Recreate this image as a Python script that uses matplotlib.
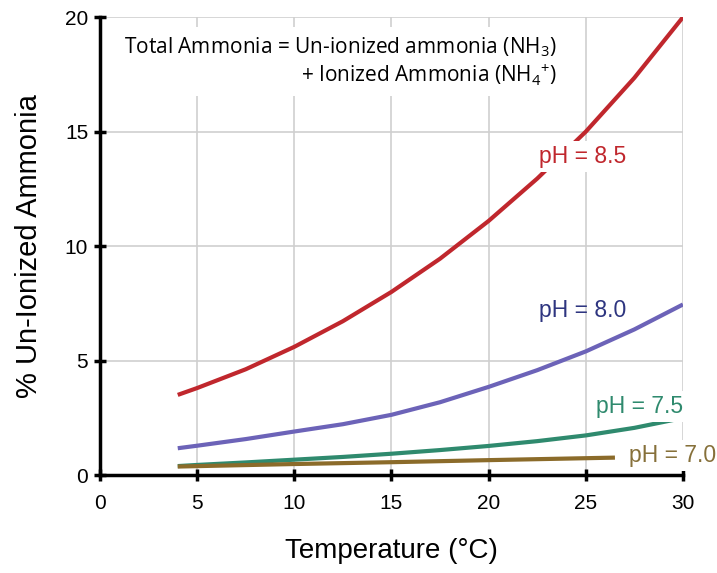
import matplotlib.pyplot as plt

plt.rcParams['font.family'] = ['Liberation Sans', 'DejaVu Sans']
plt.rcParams['mathtext.default'] = 'regular'

# temperature (°C) and % un-ionized ammonia
temp = [4, 5, 7.5, 10, 12.5, 15, 17.5, 20, 22.5, 25, 27.5, 30]
ph85 = [3.5, 3.8, 4.62, 5.6, 6.72, 8.0, 9.45, 11.1, 12.95, 15.0, 17.35, 20.0]
ph80 = [1.17, 1.28, 1.57, 1.9, 2.22, 2.63, 3.18, 3.85, 4.58, 5.4, 6.36, 7.45]
ph75 = [0.39, 0.44, 0.55, 0.67, 0.79, 0.93, 1.09, 1.27, 1.48, 1.73, 2.06, 2.49]
temp70 = [4, 10, 15, 20, 26.5]
ph70 = [0.37, 0.48, 0.56, 0.65, 0.76]

fig = plt.figure(figsize=(7.17, 5.73), dpi=100)
ax = fig.add_axes([0.1395, 0.171, 0.813, 0.799])

style = dict(lw=3, solid_capstyle='butt', solid_joinstyle='round')
ax.plot(temp, ph85, color='#c0272d', zorder=3, **style)
ax.plot(temp, ph80, color='#6c63b8', zorder=3, **style)
ax.plot(temp, ph75, color='#2f8a6e', zorder=3, **style)
ax.plot(temp70, ph70, color='#8b6b2a', zorder=4, **style)

ax.set_xlim(0, 30)
ax.set_ylim(0, 20)
ax.set_xticks(range(0, 31, 5))
ax.set_yticks(range(0, 21, 5))
ax.grid(True, color='#cfcfcf', lw=1.2, zorder=0)
ax.set_axisbelow(True)
for s in ['top', 'right']:
    ax.spines[s].set_visible(False)
for s in ['left', 'bottom']:
    ax.spines[s].set_linewidth(2.5)
ax.tick_params(axis='both', direction='inout', length=9, width=2.5, labelsize=15)
ax.tick_params(axis='x', pad=9)
ax.tick_params(axis='y', pad=4)

ax.set_xlabel('Temperature (°C)', fontsize=20, labelpad=18)
ax.set_ylabel('% Un-Ionized Ammonia', fontsize=21, labelpad=16)

box = dict(facecolor='white', edgecolor='none', pad=3)
ax.text(23.5, 18.07, 'Total Ammonia = Un-ionized ammonia (NH$_3$)\n'
        '+ Ionized Ammonia (NH$_4$$^{+}$)', fontsize=15,
        family=['Open Sans', 'DejaVu Sans'], va='center', ha='right',
        multialignment='right', linespacing=1.2, zorder=5,
        bbox=dict(facecolor='white', edgecolor='none', pad=6))

ax.text(27.1, 13.9, 'pH = 8.5', color='#c0272d', fontsize=16.5, ha='right', va='center',
        zorder=5, bbox=box)
ax.text(27.1, 7.2, 'pH = 8.0', color='#2e3580', fontsize=16.5, ha='right', va='center', zorder=5)
ax.text(30, 3.0, 'pH = 7.5', color='#2f8a6e', fontsize=16.5, ha='right', va='center',
        zorder=5, bbox=box)
ax.text(27.2, 0.85, 'pH = 7.0', color='#86703a', fontsize=16.5, ha='left', va='center',
        zorder=5, bbox=box, clip_on=False)

fig.savefig('out.png', dpi=100)
